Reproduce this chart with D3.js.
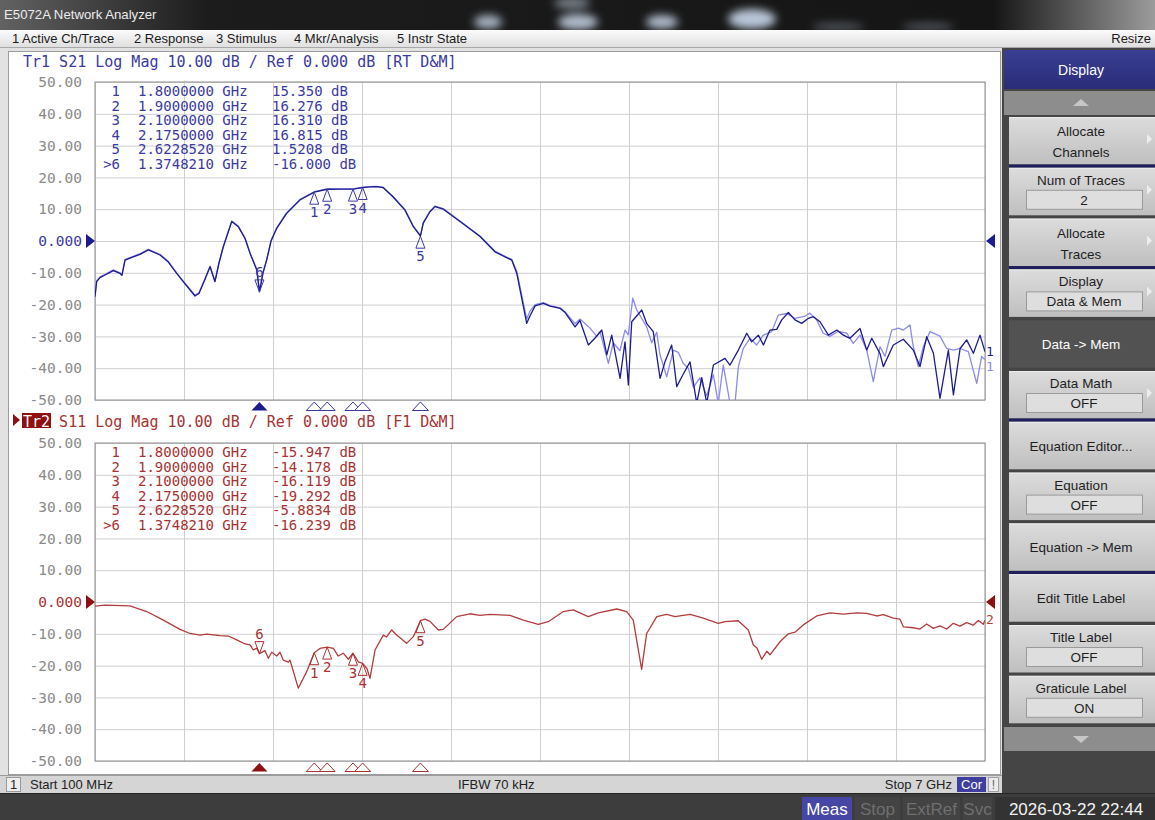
<!DOCTYPE html>
<html>
<head>
<meta charset="utf-8">
<script src="https://cdn.jsdelivr.net/npm/d3@7"></script>
<style>
  html, body { margin: 0; padding: 0; background: #3c3c3c; }
  svg { display: block; }
  .mono { font-family: "DejaVu Sans Mono", "Liberation Mono", monospace; white-space: pre; }
  .ui { font-family: "Liberation Sans", "DejaVu Sans", sans-serif; white-space: pre; }
</style>
</head>
<body>
<svg id="chart" width="1155" height="820"></svg>
<script>
// ---- sweep settings -------------------------------------------------------
const startGHz = 0.1;
const stopGHz = 7.0;
const yTicks = [50, 40, 30, 20, 10, 0, -10, -20, -30, -40, -50];

// ---- S21 trace (data), [GHz, dB] ------------------------------------------
const s21Data = [
  [0.100,-17.5],[0.113,-12.8],[0.139,-11.5],[0.178,-10.7],[0.242,-9.3],[0.294,-10.2],
  [0.309,-10.8],[0.333,-6.0],[0.371,-5.4],[0.449,-4.2],[0.513,-2.8],[0.604,-4.4],
  [0.666,-6.5],[0.733,-10.2],[0.798,-13.5],[0.875,-17.3],[0.906,-16.5],[0.953,-12.0],
  [0.992,-8.1],[1.030,-12.8],[1.061,-7.0],[1.095,-1.8],[1.160,6.1],[1.211,4.5],
  [1.263,0.8],[1.302,-3.9],[1.354,-9.1],[1.375,-16.0],[1.403,-10.0],[1.431,-6.0],
  [1.465,0.0],[1.509,4.0],[1.586,8.7],[1.689,12.9],[1.800,15.35],[1.900,16.276],
  [2.000,16.3],[2.100,16.31],[2.175,16.815],[2.232,17.0],[2.284,17.1],[2.333,16.8],
  [2.410,13.9],[2.503,9.7],[2.568,4.5],[2.623,1.5208],[2.645,5.6],[2.697,9.2],
  [2.736,10.8],[2.800,10.0],[2.930,6.1],[3.085,1.4],[3.201,-3.4],[3.279,-5.0],
  [3.331,-6.0],[3.370,-10.2],[3.447,-25.9],[3.473,-23.5],[3.512,-20.4],[3.576,-19.6],
  [3.628,-20.5],[3.706,-21.2],[3.745,-22.5],[3.822,-27.0],
  [3.860,-25.0],[3.925,-32.7],[3.977,-30.5],[4.029,-28.0],[4.068,-35.8],[4.106,-29.6],
  [4.171,-43.2],[4.209,-31.7],[4.235,-45.3],[4.261,-25.4],[4.339,-21.7],[4.378,-26.0],
  [4.428,-28.5],[4.481,-43.2],[4.519,-38.0],[4.571,-32.7],[4.610,-45.8],[4.659,-42.0],
  [4.713,-38.0],[4.765,-51.0],[4.804,-43.0],[4.843,-51.0],[4.894,-39.0],[4.984,-36.9],
  [5.023,-39.0],[5.088,-34.3],[5.153,-29.0],[5.191,-31.7],[5.243,-29.6],[5.282,-32.7],
  [5.333,-28.0],[5.385,-27.8],[5.424,-24.8],[5.475,-22.5],[5.527,-24.8],[5.579,-25.9],
  [5.631,-24.3],[5.669,-23.8],[5.721,-25.4],[5.786,-29.6],[5.851,-28.0],[5.902,-29.6],
  [5.953,-30.6],[6.031,-27.5],[6.083,-34.3],[6.122,-30.6],[6.186,-35.4],[6.212,-39.5],
  [6.289,-32.7],[6.367,-30.9],[6.444,-34.3],[6.496,-39.5],[6.548,-30.1],[6.600,-35.3],
  [6.651,-49.5],[6.716,-34.3],[6.755,-48.4],[6.807,-33.8],[6.858,-31.1],[6.910,-35.3],
  [6.961,-29.6],[7.000,-34.8]
];

// ---- S21 trace (memory), [GHz, dB] ----------------------------------------
const s21Mem = [
  [0.100,-17.0],[0.113,-12.5],[0.139,-11.3],[0.178,-10.5],[0.242,-9.1],[0.294,-10.0],
  [0.309,-10.6],[0.333,-5.8],[0.371,-5.2],[0.449,-4.0],[0.513,-2.6],[0.604,-4.2],
  [0.666,-6.3],[0.733,-10.0],[0.798,-13.3],[0.875,-17.0],[0.906,-16.3],[0.953,-11.8],
  [0.992,-7.9],[1.030,-12.6],[1.061,-6.8],[1.095,-1.6],[1.160,6.3],[1.211,4.7],
  [1.263,1.0],[1.302,-3.7],[1.354,-8.9],[1.375,-15.5],[1.403,-9.8],[1.431,-5.8],
  [1.465,0.2],[1.509,4.2],[1.586,8.9],[1.689,13.1],[1.800,15.5],[1.900,16.4],
  [2.000,16.4],[2.100,16.4],[2.175,16.9],[2.232,17.1],[2.284,17.2],[2.333,16.9],
  [2.410,14.0],[2.503,9.9],[2.568,4.7],[2.623,1.8],[2.645,5.8],[2.697,9.4],
  [2.736,11.0],[2.800,10.2],[2.930,6.3],[3.085,1.6],[3.201,-3.2],[3.279,-4.8],
  [3.331,-5.8],[3.370,-9.5],[3.447,-24.5],[3.473,-22.0],[3.512,-20.0],[3.576,-19.4],
  [3.628,-20.3],[3.706,-21.0],[3.745,-22.3],[3.822,-26.0],
  [3.860,-24.5],[3.938,-27.4],[3.990,-30.0],[4.015,-28.5],[4.080,-38.5],[4.118,-32.0],
  [4.170,-34.5],[4.209,-28.0],[4.234,-29.5],[4.269,-18.0],[4.300,-21.7],[4.338,-24.3],
  [4.377,-27.0],[4.416,-32.0],[4.455,-28.7],[4.480,-35.7],[4.532,-42.7],[4.584,-34.3],
  [4.622,-35.0],[4.661,-38.5],[4.700,-40.0],[4.739,-46.0],[4.790,-43.0],[4.842,-48.7],
  [4.894,-42.0],[4.932,-51.0],[4.971,-39.0],[5.023,-51.0],[5.062,-51.0],[5.088,-39.5],
  [5.126,-33.8],[5.178,-30.6],[5.230,-32.7],[5.281,-29.6],[5.346,-28.5],[5.398,-23.3],
  [5.463,-22.8],[5.527,-24.3],[5.605,-23.6],[5.643,-22.7],[5.695,-24.8],[5.746,-29.0],
  [5.798,-30.0],[5.863,-28.4],[5.928,-29.0],[5.979,-32.2],[6.031,-29.6],[6.083,-34.3],
  [6.134,-44.2],[6.186,-33.2],[6.225,-36.3],[6.277,-28.0],[6.328,-27.4],[6.367,-28.0],
  [6.418,-26.4],[6.444,-33.2],[6.483,-39.5],[6.522,-33.2],[6.574,-28.5],[6.651,-29.9],
  [6.703,-33.8],[6.755,-34.3],[6.806,-33.8],[6.871,-34.8],[6.936,-44.8],[6.974,-36.3],
  [7.000,-37.3]
];

// ---- S11 trace, [GHz, dB] -------------------------------------------------
const s11Data = [
  [0.100,-1.3],[0.178,-1.0],[0.371,-1.2],[0.501,-3.0],[0.630,-5.7],[0.759,-8.6],
  [0.837,-9.9],[0.914,-10.4],[0.966,-10.1],[1.069,-10.6],[1.133,-10.7],[1.199,-11.9],
  [1.263,-13.2],[1.302,-13.5],[1.327,-15.1],[1.354,-14.5],[1.375,-16.239],[1.418,-15.3],
  [1.444,-17.7],[1.470,-15.8],[1.509,-17.0],[1.534,-15.8],[1.560,-18.3],[1.599,-18.9],
  [1.612,-18.3],[1.676,-27.1],[1.741,-21.9],[1.800,-15.947],[1.844,-14.6],[1.900,-14.178],
  [1.948,-14.6],[1.986,-17.0],[2.025,-16.1],[2.064,-18.0],[2.100,-16.119],[2.142,-18.8],
  [2.175,-19.292],[2.209,-21.0],[2.232,-24.0],[2.271,-15.1],[2.335,-10.4],[2.361,-11.0],
  [2.400,-8.8],[2.439,-10.4],[2.516,-13.0],[2.568,-10.9],[2.623,-5.8834],[2.658,-5.4],
  [2.697,-6.1],[2.762,-8.8],[2.800,-8.6],[2.904,-4.6],[3.007,-3.7],[3.085,-4.2],
  [3.162,-3.9],[3.317,-4.2],[3.421,-5.7],[3.537,-7.0],[3.614,-6.2],[3.731,-3.0],
  [3.808,-2.5],[3.924,-4.6],[4.002,-3.4],[4.145,-2.2],[4.222,-3.0],[4.273,-5.7],
  [4.338,-21.2],[4.377,-9.9],[4.455,-4.6],[4.532,-3.9],[4.597,-4.6],[4.713,-3.9],
  [4.816,-5.1],[4.932,-6.7],[4.984,-6.2],[5.087,-5.9],[5.165,-8.8],[5.204,-13.5],
  [5.232,-14.5],[5.269,-18.0],[5.308,-15.5],[5.333,-16.6],[5.411,-12.5],[5.475,-10.0],
  [5.527,-9.5],[5.591,-7.2],[5.695,-4.4],[5.798,-3.4],[5.901,-3.8],[6.005,-3.4],
  [6.083,-3.6],[6.160,-4.4],[6.212,-4.0],[6.289,-5.1],[6.341,-5.4],[6.367,-7.8],
  [6.444,-8.1],[6.496,-8.5],[6.548,-6.9],[6.599,-8.3],[6.651,-7.5],[6.703,-8.5],
  [6.754,-6.7],[6.806,-7.6],[6.858,-6.5],[6.909,-7.3],[6.948,-5.8],[6.987,-7.0],
  [7.000,-5.7]
];

// ---- markers ----------------------------------------------------------------
const markerNames = ["1", "2", "3", "4", "5", ">6"];
const markerFreqGHz = [1.8, 1.9, 2.1, 2.175, 2.622852, 1.374821];
const s21MarkerDb = [15.350, 16.276, 16.310, 16.815, 1.5208, -16.000];
const s11MarkerDb = [-15.947, -14.178, -16.119, -19.292, -5.8834, -16.239];
const activeMarker = 5;

// ---- window texts -----------------------------------------------------------
const windowTitle = "E5072A Network Analyzer";
const menuItems = ["1 Active Ch/Trace", "2 Response", "3 Stimulus", "4 Mkr/Analysis", "5 Instr State"];
const softkeyTitle = "Display";
const softkeys = [
  { lines: ["Allocate", "Channels"], arrow: true },
  { lines: ["Num of Traces"], value: "2", arrow: true },
  { lines: ["Allocate", "Traces"], arrow: true },
  { lines: ["Display"], value: "Data & Mem", arrow: true },
  { lines: ["Data -> Mem"], pressed: true },
  { lines: ["Data Math"], value: "OFF", arrow: true },
  { lines: ["Equation Editor..."] },
  { lines: ["Equation"], value: "OFF" },
  { lines: ["Equation -> Mem"] },
  { lines: ["Edit Title Label"] },
  { lines: ["Title Label"], value: "OFF" },
  { lines: ["Graticule Label"], value: "ON" }
];
const softkeyGroupEnds = [0, 2, 5, 8];
const statusItems = ["Stop", "ExtRef", "Svc"];
const timestamp = "2026-03-22 22:44";

// ---- drawing ----------------------------------------------------------------
const svg = d3.select("#chart");
const defs = svg.append("defs");

const fmtLocale = d3.formatLocale({ decimal: ".", thousands: ",", grouping: [3], currency: ["", ""], minus: "-" });
const fmtTick = fmtLocale.format(".4r");
const fmtFreq = fmtLocale.format(".7f");
const fmtVal = fmtLocale.format(".5r");

const tg = defs.append("linearGradient").attr("id", "titleGrad");
[["0%", "#626262"], ["10%", "#3a3a3a"], ["18%", "#1c1c1c"], ["86%", "#151515"], ["100%", "#9c9c9c"]]
  .forEach(([o, c]) => tg.append("stop").attr("offset", o).attr("stop-color", c));
const mg = defs.append("linearGradient").attr("id", "menuGrad").attr("x2", 0).attr("y2", 1);
[["0%", "#fbfbfb"], ["100%", "#dedede"]].forEach(([o, c]) => mg.append("stop").attr("offset", o).attr("stop-color", c));
const bg = defs.append("linearGradient").attr("id", "keyGrad").attr("x2", 0).attr("y2", 1);
[["0%", "#dcdcdc"], ["100%", "#bfbfbf"]].forEach(([o, c]) => bg.append("stop").attr("offset", o).attr("stop-color", c));
const hg = defs.append("linearGradient").attr("id", "headGrad").attr("x2", 0).attr("y2", 1);
[["0%", "#3a3f93"], ["100%", "#2a2c78"]].forEach(([o, c]) => hg.append("stop").attr("offset", o).attr("stop-color", c));
defs.append("filter").attr("id", "soft").attr("x", "-50%").attr("y", "-50%").attr("width", "200%").attr("height", "200%")
  .append("feGaussianBlur").attr("stdDeviation", 4);

// title bar
svg.append("rect").attr("x", 0).attr("y", 0).attr("width", 1155).attr("height", 30).attr("fill", "url(#titleGrad)");
const glare = svg.append("g").attr("filter", "url(#soft)");
[[488, 22, 14, 7, 0.75], [578, 22, 20, 8, 0.8], [662, 22, 16, 7, 0.8], [752, 19, 24, 10, 0.85],
 [572, 3, 18, 6, 0.5], [838, 27, 26, 4, 0.3], [928, 27, 26, 4, 0.3]]
  .forEach(([cx, cy, rx, ry, op]) => glare.append("ellipse").attr("cx", cx).attr("cy", cy).attr("rx", rx).attr("ry", ry)
    .attr("fill", "#d4e4f8").attr("opacity", op));
svg.append("text").attr("class", "ui").attr("x", 4).attr("y", 19).attr("font-size", 13.2).attr("fill", "#ececec").text(windowTitle);

// menu bar
svg.append("rect").attr("x", 0).attr("y", 30).attr("width", 1155).attr("height", 18).attr("fill", "url(#menuGrad)");
svg.append("line").attr("x1", 0).attr("x2", 1155).attr("y1", 47.5).attr("y2", 47.5).attr("stroke", "#a8a8a8");
const menuX = [12, 134, 216, 294, 397];
menuItems.forEach((m, i) => svg.append("text").attr("class", "ui").attr("x", menuX[i]).attr("y", 43)
  .attr("font-size", 13).attr("fill", "#1a1a1a").text(m));
svg.append("text").attr("class", "ui").attr("x", 1151).attr("y", 43).attr("text-anchor", "end")
  .attr("font-size", 13).attr("fill", "#1a1a1a").text("Resize");

// measurement window
svg.append("rect").attr("x", 0).attr("y", 48).attr("width", 1003).attr("height", 727).attr("fill", "#e2e2e2");
svg.append("rect").attr("x", 8.5).attr("y", 51.5).attr("width", 992).attr("height", 723).attr("fill", "#ffffff").attr("stroke", "#9c9c9c");

const x = d3.scaleLinear().domain([startGHz, stopGHz]).range([95, 985]);
const xGrid = d3.range(11).map(i => startGHz + i * (stopGHz - startGHz) / 10);

const panes = [
  { id: "p1", y: d3.scaleLinear().domain([-50, 50]).range([400, 82]), text: "#3a3aa2", mark: "#1c1c8e",
    header: "Tr1 S21 Log Mag 10.00 dB / Ref 0.000 dB [RT D&M]", active: false,
    traces: [{ data: s21Mem, color: "#8a8af0" }, { data: s21Data, color: "#1c1c8e" }],
    markers: s21MarkerDb, rowY0: 96, label: "1" },
  { id: "p2", y: d3.scaleLinear().domain([-50, 50]).range([761, 443]), text: "#a83232", mark: "#8e1010",
    header: "Tr2 S11 Log Mag 10.00 dB / Ref 0.000 dB [F1 D&M]", active: true,
    traces: [{ data: s11Data, color: "#b33c3c" }],
    markers: s11MarkerDb, rowY0: 457, label: "2" }
];

panes.forEach(p => {
  const [yb, yt] = p.y.range();
  const g = svg.append("g");
  defs.append("clipPath").attr("id", "clip-" + p.id).append("rect")
    .attr("x", 95).attr("y", yt).attr("width", 890).attr("height", yb - yt);

  // horizontal graticule + scale labels
  const ax = g.append("g").attr("transform", "translate(95,0)")
    .call(d3.axisLeft(p.y).tickValues(yTicks).tickSize(-890).tickPadding(13).tickFormat(fmtTick));
  ax.select(".domain").remove();
  ax.selectAll(".tick line").attr("stroke", "#cfcfcf");
  ax.selectAll(".tick text").attr("class", "mono").attr("font-size", 14.5)
    .attr("fill", d => d === 0 ? p.text : "#8a8a8a");

  // vertical graticule
  const vx = g.append("g").attr("transform", `translate(0,${yb})`)
    .call(d3.axisBottom(x).tickValues(xGrid).tickSize(-(yb - yt)).tickFormat(""));
  vx.select(".domain").remove();
  vx.selectAll(".tick line").attr("stroke", "#cfcfcf");

  g.append("rect").attr("x", 95).attr("y", yt).attr("width", 890).attr("height", yb - yt)
    .attr("fill", "none").attr("stroke", "#8e8e8e");

  // trace header
  if (p.active) {
    g.append("path").attr("d", `M13,${yt - 29} L20,${yt - 23} L13,${yt - 17} Z`).attr("fill", p.mark);
    g.append("rect").attr("x", 22).attr("y", yt - 30).attr("width", 29).attr("height", 15).attr("fill", p.mark);
    g.append("text").attr("class", "mono").attr("x", 23).attr("y", yt - 16).attr("font-size", 15)
      .attr("fill", "#ffffff").text(p.header.slice(0, 3));
    g.append("text").attr("class", "mono").attr("x", 23 + 4 * 9.03).attr("y", yt - 16).attr("font-size", 15)
      .attr("fill", p.text).text(p.header.slice(4));
  } else {
    g.append("text").attr("class", "mono").attr("x", 23).attr("y", yt - 15).attr("font-size", 15)
      .attr("fill", p.text).text(p.header);
  }

  // marker readout
  markerNames.forEach((n, i) => {
    const ry = p.rowY0 + i * 14.5;
    g.append("text").attr("class", "mono").attr("x", 120).attr("y", ry).attr("text-anchor", "end")
      .attr("font-size", 14).attr("fill", p.text).text(n);
    g.append("text").attr("class", "mono").attr("x", 138).attr("y", ry)
      .attr("font-size", 14).attr("fill", p.text).text(fmtFreq(markerFreqGHz[i]) + " GHz");
    g.append("text").attr("class", "mono").attr("x", 272).attr("y", ry)
      .attr("font-size", 14).attr("fill", p.text).text(fmtVal(p.markers[i]) + " dB");
  });

  // traces
  const line = d3.line().x(d => x(d[0])).y(d => p.y(d[1]));
  const tg2 = g.append("g").attr("clip-path", `url(#clip-${p.id})`);
  p.traces.forEach(t => tg2.append("path").datum(t.data).attr("d", line)
    .attr("fill", "none").attr("stroke", t.color).attr("stroke-width", 1.3).attr("stroke-linejoin", "round"));

  // reference level arrows
  const y0 = p.y(0);
  g.append("path").attr("d", `M86,${y0 - 7} L95,${y0} L86,${y0 + 7} Z`).attr("fill", p.mark);
  g.append("path").attr("d", `M995,${y0 - 7} L986,${y0} L995,${y0 + 7} Z`).attr("fill", p.mark);

  // trace number at the right end (stacked so the data and memory labels stay legible)
  p.traces.slice().reverse().forEach((t, k) => {
    const last = t.data[t.data.length - 1];
    g.append("text").attr("class", "mono").attr("x", 986).attr("y", p.y(last[1]) + 4 + k * 7)
      .attr("font-size", 13).attr("fill", t.color).text(p.label);
  });

  // markers on the trace
  markerNames.forEach((n, i) => {
    const cx = x(markerFreqGHz[i]), cy = p.y(p.markers[i]);
    const num = n.replace(">", "");
    if (i === activeMarker) {
      g.append("path").attr("d", `M${cx},${cy} L${cx - 4.5},${cy - 12} L${cx + 4.5},${cy - 12} Z`)
        .attr("fill", "none").attr("stroke", p.text).attr("stroke-width", 1);
      g.append("text").attr("class", "mono").attr("x", cx).attr("y", cy - 15).attr("text-anchor", "middle")
        .attr("font-size", 14).attr("fill", p.text).text(num);
    } else {
      g.append("path").attr("d", `M${cx},${cy} L${cx - 4.5},${cy + 12} L${cx + 4.5},${cy + 12} Z`)
        .attr("fill", "none").attr("stroke", p.text).attr("stroke-width", 1);
      g.append("text").attr("class", "mono").attr("x", cx).attr("y", cy + 25).attr("text-anchor", "middle")
        .attr("font-size", 14).attr("fill", p.text).text(num);
    }
    // stimulus position indicator under the graticule
    g.append("path").attr("d", `M${cx},${yb + 2} L${cx - 8},${yb + 10.5} L${cx + 8},${yb + 10.5} Z`)
      .attr("fill", i === activeMarker ? p.mark : "#ffffff")
      .attr("stroke", i === activeMarker ? "none" : p.text).attr("stroke-width", 1);
  });
});

// channel status bar
svg.append("rect").attr("x", 0).attr("y", 775).attr("width", 1002).attr("height", 18).attr("fill", "#d5d5d5");
svg.append("line").attr("x1", 0).attr("x2", 1002).attr("y1", 775.5).attr("y2", 775.5).attr("stroke", "#9a9a9a");
svg.append("rect").attr("x", 6.5).attr("y", 777.5).attr("width", 14).attr("height", 14).attr("fill", "#eeeeee").attr("stroke", "#9a9a9a");
svg.append("text").attr("class", "ui").attr("x", 10).attr("y", 789).attr("font-size", 13).attr("fill", "#222").text("1");
svg.append("text").attr("class", "ui").attr("x", 30).attr("y", 789).attr("font-size", 13).attr("fill", "#222").text("Start 100 MHz");
svg.append("text").attr("class", "ui").attr("x", 458).attr("y", 789).attr("font-size", 13).attr("fill", "#222").text("IFBW 70 kHz");
svg.append("text").attr("class", "ui").attr("x", 952).attr("y", 789).attr("text-anchor", "end").attr("font-size", 13).attr("fill", "#222").text("Stop 7 GHz");
svg.append("rect").attr("x", 957).attr("y", 777).attr("width", 29).attr("height", 15).attr("fill", "#3e3ea0");
svg.append("text").attr("class", "ui").attr("x", 971.5).attr("y", 789).attr("text-anchor", "middle").attr("font-size", 13).attr("fill", "#fff").text("Cor");
svg.append("rect").attr("x", 988.5).attr("y", 777.5).attr("width", 10).attr("height", 14).attr("fill", "#ececec").attr("stroke", "#a0a0a0");
svg.append("text").attr("class", "ui").attr("x", 993.5).attr("y", 789).attr("text-anchor", "middle").attr("font-size", 12).attr("fill", "#666").text("!");

// instrument status bar
svg.append("rect").attr("x", 0).attr("y", 793).attr("width", 1155).attr("height", 27).attr("fill", "#3d3d3d");
svg.append("line").attr("x1", 0).attr("x2", 1155).attr("y1", 793.5).attr("y2", 793.5).attr("stroke", "#242424");
svg.append("rect").attr("x", 802).attr("y", 797).attr("width", 50).attr("height", 23).attr("fill", "#4646a6");
svg.append("text").attr("class", "ui").attr("x", 827).attr("y", 815).attr("text-anchor", "middle").attr("font-size", 17).attr("fill", "#ffffff").text("Meas");
const statusX = [855, 903, 963];
const statusW = [45, 57, 29];
statusItems.forEach((s, i) => {
  svg.append("rect").attr("x", statusX[i]).attr("y", 797).attr("width", statusW[i]).attr("height", 23).attr("fill", "#434343");
  svg.append("text").attr("class", "ui").attr("x", statusX[i] + statusW[i] / 2).attr("y", 815).attr("text-anchor", "middle")
    .attr("font-size", 17).attr("fill", "#6f6f6f").text(s);
});
svg.append("rect").attr("x", 995).attr("y", 797).attr("width", 160).attr("height", 23).attr("fill", "#333333");
svg.append("text").attr("class", "ui").attr("x", 1076).attr("y", 815).attr("text-anchor", "middle").attr("font-size", 17).attr("fill", "#f2f2f2").text(timestamp);

// softkey panel
svg.append("rect").attr("x", 1002).attr("y", 48).attr("width", 153).attr("height", 745).attr("fill", "#454545");
svg.append("rect").attr("x", 1004).attr("y", 50).attr("width", 151).attr("height", 39).attr("fill", "url(#headGrad)");
svg.append("text").attr("class", "ui").attr("x", 1081).attr("y", 75).attr("text-anchor", "middle").attr("font-size", 14).attr("fill", "#ffffff").text(softkeyTitle);

function scrollStrip(y, up) {
  svg.append("rect").attr("x", 1004).attr("y", y).attr("width", 151).attr("height", 24).attr("fill", "#8d8d8d");
  const cy = y + 12;
  svg.append("path").attr("d", up ? `M1073,${cy + 3} L1081,${cy - 4} L1089,${cy + 3} Z` : `M1073,${cy - 3} L1081,${cy + 4} L1089,${cy - 3} Z`)
    .attr("fill", "#c6c6c6");
}
scrollStrip(91, true);
scrollStrip(727, false);

const keyTop = 117, keyPitch = 50.8, keyH = 47.5;
softkeys.forEach((k, i) => {
  const top = keyTop + i * keyPitch;
  const kg = svg.append("g");
  kg.append("rect").attr("x", 1009).attr("y", top).attr("width", 146).attr("height", keyH)
    .attr("fill", k.pressed ? "#525252" : "url(#keyGrad)");
  if (!k.pressed) {
    kg.append("line").attr("x1", 1009).attr("x2", 1155).attr("y1", top + 0.5).attr("y2", top + 0.5).attr("stroke", "#ececec");
  }
  const tc = k.pressed ? "#ffffff" : "#1e1e1e";
  if (k.value !== undefined) {
    kg.append("text").attr("class", "ui").attr("x", 1081).attr("y", top + 17).attr("text-anchor", "middle")
      .attr("font-size", 13.5).attr("fill", tc).text(k.lines[0]);
    kg.append("rect").attr("x", 1026.5).attr("y", top + 22.5).attr("width", 116).attr("height", 19)
      .attr("fill", "#dedede").attr("stroke", "#9a9a9a");
    kg.append("text").attr("class", "ui").attr("x", 1084).attr("y", top + 37).attr("text-anchor", "middle")
      .attr("font-size", 13.5).attr("fill", tc).text(k.value);
  } else if (k.lines.length === 2) {
    k.lines.forEach((l, j) => kg.append("text").attr("class", "ui").attr("x", 1081).attr("y", top + 19 + j * 21)
      .attr("text-anchor", "middle").attr("font-size", 13.5).attr("fill", tc).text(l));
  } else {
    kg.append("text").attr("class", "ui").attr("x", 1081).attr("y", top + 29).attr("text-anchor", "middle")
      .attr("font-size", 13.5).attr("fill", tc).text(k.lines[0]);
  }
  if (k.arrow) {
    const ay = top + 22;
    kg.append("path").attr("d", `M1147,${ay - 5} L1152,${ay} L1147,${ay + 5} Z`).attr("fill", "#ededed");
  }
  if (softkeyGroupEnds.includes(i)) {
    svg.append("rect").attr("x", 1009).attr("y", top + keyH).attr("width", 146).attr("height", keyPitch - keyH)
      .attr("fill", "#1f1f5c");
  }
});
</script>
</body>
</html>
